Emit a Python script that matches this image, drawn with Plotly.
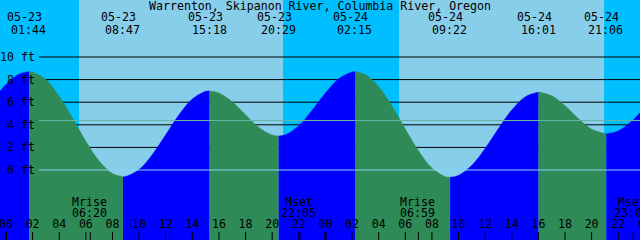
import plotly.graph_objects as go

# ---------------- data ----------------
title = "Warrenton, Skipanon River, Columbia River, Oregon"

extreme_time = ["05-23 01:44", "05-23 08:47", "05-23 15:18", "05-23 20:29",
                "05-24 02:15", "05-24 09:22", "05-24 16:01", "05-24 21:06"]
extreme_ft = [8.7, -0.6, 7.0, 3.0, 8.7, -0.65, 6.9, 3.2]

# tide height, hourly (hours from 05-23 00:00)
sample_hour = list(range(-1, 49))
sample_ft = [6.16, 7.56, 8.49, 8.67, 7.98, 6.52, 4.58, 2.54, 0.79, -0.32,
             -0.58, 0.04, 1.38, 3.12, 4.89, 6.28, 6.96, 6.82, 6.03, 4.87,
             3.76, 3.09, 3.11, 3.92, 5.29, 6.81, 8.07, 8.67, 8.45, 7.37,
             5.66, 3.63, 1.68, 0.17, -0.59, -0.48, 0.42, 1.91, 3.67, 5.31,
             6.47, 6.90, 6.57, 5.68, 4.55, 3.61, 3.20, 3.46, 4.31, 5.55]

sun_rise = ["05-23 05:29", "05-24 05:32"]
sun_set = ["05-23 20:49", "05-24 20:56"]

moon_event = ["Mrise", "Mset", "Mrise", "Mset"]
moon_time = ["05-23 06:20", "05-23 22:05", "05-24 06:59", "05-24 23:07"]

grid_ft = [2, 4, 6, 8, 10]
label_ft = [0, 2, 4, 6, 8, 10]
msl_ft = 4.38
datum_ft = 0
hour_ticks = list(range(0, 50, 2))

# ---------------- styles ----------------
NIGHT = "#00BFFF"
DAY = "#87CEEB"
RISE = "#0000FF"
FALL = "#2E8B57"
MSL_COLOR = "#66B4A2"
DATUM_COLOR = "#8CD2F5"
FONT = dict(family="DejaVu Sans Mono", size=11.6, color="black")

W, H = 640, 240
PX0, PXH = 6.0, 13.31      # pixel of 05-23 00:00, pixels per hour
PY0, PYF = 170.0, 11.3     # pixel of 0 ft, pixels per foot
xr = [-PX0 / PXH, (W - PX0) / PXH]
yr = [-(H - PY0) / PYF, PY0 / PYF]


def hours(s):
    d, hm = s.split()
    day = int(d.split("-")[1]) - 23
    h, m = hm.split(":")
    return day * 24 + int(h) + int(m) / 60


def ypaper(py):
    return 1 - py / H


ext_h = [hours(s) for s in extreme_time]

fig = go.Figure()

# tide fill segments, coloured by rising / falling
bounds_t = [sample_hour[0]] + ext_h + [sample_hour[-1]]
bounds_v = [sample_ft[0]] + extreme_ft + [sample_ft[-1]]
base = yr[0] - 2
for i in range(len(bounds_t) - 1):
    a, b = bounds_t[i], bounds_t[i + 1]
    xs = [a]
    ys = [bounds_v[i]]
    for t, v in zip(sample_hour, sample_ft):
        if a + 0.2 < t < b - 0.2:
            xs.append(t)
            ys.append(v)
    xs.append(b)
    ys.append(bounds_v[i + 1])
    color = RISE if bounds_v[i + 1] > bounds_v[i] else FALL
    fig.add_trace(go.Scatter(x=[a, b], y=[base, base], mode="lines",
                             line=dict(width=0), hoverinfo="skip"))
    fig.add_trace(go.Scatter(x=xs, y=ys, mode="lines",
                             line=dict(width=0.5, color=color, shape="spline"),
                             fill="tonexty", fillcolor=color, hoverinfo="skip"))

shapes = []
# daylight bands
for r, s in zip(sun_rise, sun_set):
    shapes.append(dict(type="rect", xref="x", yref="paper", x0=hours(r), x1=hours(s),
                       y0=0, y1=1, fillcolor=DAY, line=dict(width=0), layer="below"))
# grid lines (behind tide)
for v in grid_ft:
    shapes.append(dict(type="line", xref="paper", yref="y", x0=39 / W, x1=1, y0=v, y1=v,
                       line=dict(color="black", width=1), layer="below"))
# datum / mean level lines (over tide)
shapes.append(dict(type="line", xref="paper", yref="y", x0=39 / W, x1=1, y0=msl_ft, y1=msl_ft,
                   line=dict(color=MSL_COLOR, width=1), layer="above"))
shapes.append(dict(type="line", xref="paper", yref="y", x0=39 / W, x1=1, y0=datum_ft, y1=datum_ft,
                   line=dict(color=DATUM_COLOR, width=1), layer="above"))
# hour ticks
for h in hour_ticks:
    shapes.append(dict(type="line", xref="x", yref="paper", x0=h, x1=h, y0=0, y1=8 / H,
                       line=dict(color="black", width=2 if h % 24 == 0 else 1), layer="above"))
# moon event ticks
for t in moon_time:
    shapes.append(dict(type="line", xref="x", yref="paper", x0=hours(t), x1=hours(t), y0=0, y1=8 / H,
                       line=dict(color="black", width=1), layer="above"))

ann = []
ann.append(dict(text=title, xref="paper", yref="paper", x=0.5, y=ypaper(5.5),
                xanchor="center", yanchor="middle", showarrow=False, font=FONT))
for s in extreme_time:
    d, hm = s.split()
    t = hours(s)
    ann.append(dict(text=d, xref="x", yref="paper", x=t, y=ypaper(17.5), xshift=-4.5,
                    xanchor="center", yanchor="middle", showarrow=False, font=FONT))
    ann.append(dict(text=hm, xref="x", yref="paper", x=t, y=ypaper(29.5), xshift=-0.5,
                    xanchor="center", yanchor="middle", showarrow=False, font=FONT))
for v in label_ft:
    ann.append(dict(text=f"{v} ft", xref="paper", yref="y", x=36.5 / W, y=v,
                    xanchor="right", yanchor="middle", showarrow=False, font=FONT))
for ev, s in zip(moon_event, moon_time):
    t = hours(s)
    ann.append(dict(text=ev, xref="x", yref="paper", x=t, y=ypaper(201.5), xshift=-1.3,
                    xanchor="center", yanchor="middle", showarrow=False, font=FONT))
    ann.append(dict(text=s.split()[1], xref="x", yref="paper", x=t, y=ypaper(213), xshift=-1.3,
                    xanchor="center", yanchor="middle", showarrow=False, font=FONT))

# hour labels as a text trace (so partially visible labels get clipped, not dropped)
label_y = (PY0 - 225) / PYF
fig.add_trace(go.Scatter(x=hour_ticks, y=[label_y] * len(hour_ticks), mode="text",
                         text=[f"{h % 24:02d}" for h in hour_ticks],
                         textposition="middle center", textfont=FONT, hoverinfo="skip"))

fig.update_layout(
    width=W, height=H, margin=dict(l=0, r=0, t=0, b=0),
    paper_bgcolor=NIGHT, plot_bgcolor=NIGHT, showlegend=False,
    xaxis=dict(range=xr, visible=False, fixedrange=True),
    yaxis=dict(range=yr, visible=False, fixedrange=True),
    shapes=shapes, annotations=ann,
)
fig.write_html("out.html", config={"displayModeBar": False})
